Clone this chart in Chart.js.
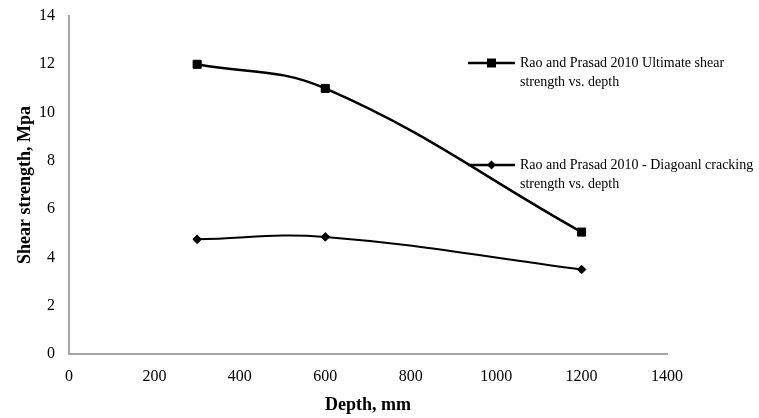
<!DOCTYPE html>
<html>
<head>
<meta charset="utf-8">
<script src="https://cdn.jsdelivr.net/npm/chart.js@4.4.0/dist/chart.umd.min.js"></script>
<style>
html,body{margin:0;padding:0;background:#fff;}
#wrap{width:759px;height:418px;position:relative;}
</style>
</head>
<body>
<div id="wrap"><canvas id="c" width="759" height="418"></canvas></div>
<script>
const depths = [300, 600, 1200];
const ultimateStrength = [12, 11, 5.05];
const crackingStrength = [4.75, 4.85, 3.5];
const seriesNames = [
  ["Rao and Prasad 2010 Ultimate shear", "strength vs. depth"],
  ["Rao and Prasad 2010 - Diagoanl cracking", "strength vs. depth"]
];
const xTitle = "Depth, mm";
const yTitle = "Shear strength, Mpa";

const FONT = "'Liberation Serif', 'Times New Roman', serif";

function drawMarker(ctx, style, x, y) {
  ctx.save();
  ctx.fillStyle = '#000';
  ctx.beginPath();
  if (style === 'rect') {
    ctx.rect(x - 4.5, y - 4.5, 9, 9);
  } else {
    ctx.moveTo(x, y - 4.5); ctx.lineTo(x + 4.5, y); ctx.lineTo(x, y + 4.5); ctx.lineTo(x - 4.5, y);
    ctx.closePath();
  }
  ctx.fill();
  ctx.restore();
}

const legendPlugin = {
  id: 'customLegend',
  beforeDatasetsDraw(chart) {
    const ctx = chart.ctx;
    const a = chart.chartArea;
    const entries = [
      {style: 'rect', y: a.top + 47, names: seriesNames[0]},
      {style: 'rectRot', y: a.top + 149, names: seriesNames[1]}
    ];
    const x0 = a.left + 399;
    ctx.save();
    entries.forEach(e => {
      ctx.strokeStyle = '#000';
      ctx.lineWidth = 2.5;
      ctx.beginPath();
      ctx.moveTo(x0, e.y);
      ctx.lineTo(x0 + 47, e.y);
      ctx.stroke();
      drawMarker(ctx, e.style, x0 + 23.5, e.y);
      ctx.fillStyle = '#000';
      ctx.font = "14px " + FONT;
      ctx.textBaseline = 'middle';
      ctx.textAlign = 'left';
      e.names.forEach((t, i) => ctx.fillText(t, x0 + 52, e.y + i * 19));
    });
    ctx.restore();
  }
};

const mk = (xs, ys) => xs.map((x, i) => ({x: x, y: ys[i]}));

new Chart(document.getElementById('c'), {
  type: 'scatter',
  data: {
    datasets: [
      {
        label: seriesNames[0].join(' '),
        data: mk(depths, ultimateStrength),
        showLine: true,
        borderColor: '#000',
        backgroundColor: '#000',
        borderWidth: 2.5,
        tension: 0.4,
        pointStyle: 'rect',
        pointRadius: 5.7,
        pointBorderWidth: 1,
        pointHoverRadius: 5.7
      },
      {
        label: seriesNames[1].join(' '),
        data: mk(depths, crackingStrength),
        showLine: true,
        borderColor: '#000',
        backgroundColor: '#000',
        borderWidth: 2,
        tension: 0.4,
        pointStyle: 'rectRot',
        pointRadius: 4.3,
        pointBorderWidth: 1,
        pointHoverRadius: 4.3
      }
    ]
  },
  options: {
    responsive: false,
    animation: false,
    events: [],
    layout: {padding: {top: 16, right: 92, left: 0, bottom: 0}},
    plugins: {legend: {display: false}, tooltip: {enabled: false}},
    scales: {
      x: {
        type: 'linear',
        min: 0, max: 1400,
        ticks: {stepSize: 200, color: '#000', padding: 13, font: {family: FONT, size: 16}, callback: v => String(v)},
        grid: {display: false, drawTicks: false},
        border: {display: true, color: '#a6a6a6', width: 2},
        title: {display: true, text: xTitle, color: '#000', padding: {top: 4, bottom: 2}, font: {family: FONT, size: 18, weight: 'bold'}},
        afterFit(s) { s.height = 64; s.paddingLeft = 0; s.paddingRight = 0; }
      },
      y: {
        type: 'linear',
        min: 0, max: 14,
        ticks: {stepSize: 2, color: '#000', padding: 14, font: {family: FONT, size: 16}, callback: v => String(v)},
        grid: {display: false, drawTicks: false},
        border: {display: true, color: '#a6a6a6', width: 2},
        title: {display: true, text: yTitle, color: '#000', padding: {top: 15, bottom: 15}, font: {family: FONT, size: 18, weight: 'bold'}},
        afterFit(s) { s.width = 69; s.paddingTop = 0; s.paddingBottom = 0; }
      }
    }
  },
  plugins: [legendPlugin]
});
</script>
</body>
</html>
